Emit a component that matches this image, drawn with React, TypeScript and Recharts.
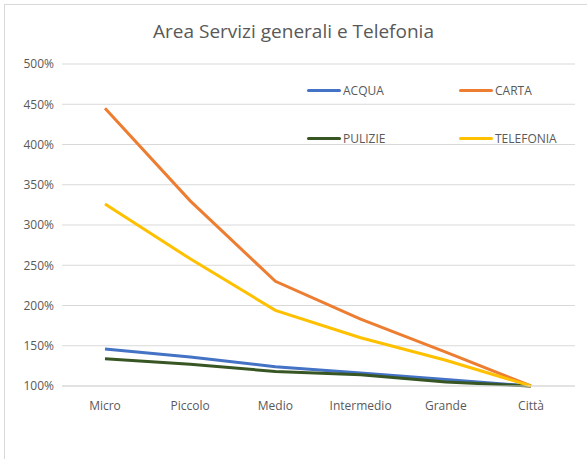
import { LineChart, Line, XAxis, YAxis, CartesianGrid } from "recharts"

const categories = ["Micro", "Piccolo", "Medio", "Intermedio", "Grande", "Città"]
const acqua = [146, 136, 124, 116, 108, 100]
const carta = [445, 330, 230, 183, 142, 100]
const pulizie = [134, 127, 118, 114, 105, 100]
const telefonia = [326, 258, 194, 160, 132, 100]
const yTicks = [100, 150, 200, 250, 300, 350, 400, 450, 500]

const series = [
  { key: "acqua", name: "ACQUA", color: "#4472C4" },
  { key: "carta", name: "CARTA", color: "#ED7D31" },
  { key: "pulizie", name: "PULIZIE", color: "#375623" },
  { key: "telefonia", name: "TELEFONIA", color: "#FFC000" },
]

const data = categories.map((c, i) => ({
  name: c,
  acqua: acqua[i],
  carta: carta[i],
  pulizie: pulizie[i],
  telefonia: telefonia[i],
}))

const font = "Open Sans, sans-serif"

function LegendBox() {
  return (
    <div style={{ display: "grid", gridTemplateColumns: "152px 120px", rowGap: 36, fontFamily: font }}>
      {series.map((s) => (
        <div key={s.key} style={{ display: "flex", alignItems: "center", height: 12 }}>
          <div style={{ width: 34, height: 3, background: s.color, borderRadius: 2, marginRight: 2 }} />
          <span style={{ fontSize: 12, color: "#595959" }}>{s.name}</span>
        </div>
      ))}
    </div>
  )
}

export default function App() {
  return (
    <div
      style={{
        position: "absolute",
        left: 0,
        top: 0,
        width: 587,
        height: 459,
        background: "#fff",
        overflow: "hidden",
      }}
    >
      {/* chart frame, only the top and left edges show in the crop */}
      <div
        style={{
          position: "absolute",
          left: 4,
          top: 4,
          width: 700,
          height: 600,
          border: "1px solid #d9d9d9",
        }}
      />
      <div
        style={{
          position: "absolute",
          left: 0,
          width: 587,
          top: 18,
          textAlign: "center",
          fontFamily: font,
          fontSize: 19,
          color: "#595959",
        }}
      >
        Area Servizi generali e Telefonia
      </div>
      <div style={{ position: "absolute", left: 0, top: 0 }}>
        <LineChart width={587} height={459} data={data} margin={{ top: 64, right: 12, bottom: 43, left: 0 }}>
          <CartesianGrid vertical={false} stroke="#d9d9d9" />
          <XAxis
            dataKey="name"
            height={30}
            padding={{ left: 43, right: 44 }}
            tickLine={false}
            axisLine={{ stroke: "#d9d9d9" }}
            tickMargin={9}
            tick={{ fill: "#595959", fontSize: 12, fontFamily: font }}
          />
          <YAxis
            width={62}
            domain={[100, 500]}
            ticks={yTicks}
            tickFormatter={(v) => `${v}%`}
            axisLine={false}
            tickLine={false}
            tick={{ fill: "#595959", fontSize: 12, fontFamily: font }}
          />
          {series.map((s) => (
            <Line
              key={s.key}
              type="linear"
              dataKey={s.key}
              name={s.name}
              stroke={s.color}
              strokeWidth={3}
              dot={false}
              isAnimationActive={false}
            />
          ))}
        </LineChart>
      </div>
      <div style={{ position: "absolute", left: 307, top: 84 }}>
        <LegendBox />
      </div>
    </div>
  )
}
